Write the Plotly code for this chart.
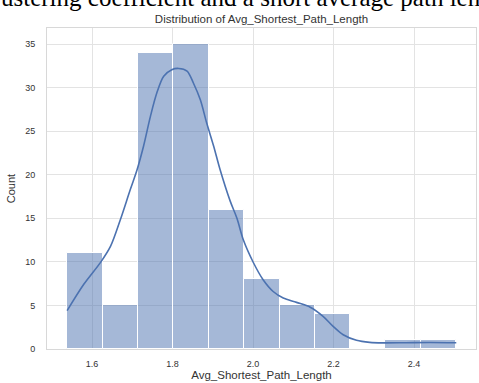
import plotly.graph_objects as go

# ---- data ----
bin_edges = [1.538, 1.626, 1.714, 1.802, 1.890, 1.978, 2.066, 2.153, 2.241, 2.329, 2.417, 2.505]
counts = [11, 5, 34, 35, 16, 8, 5, 4, 0, 1, 1]

kde_x = [1.538, 1.579, 1.622, 1.646, 1.670, 1.695, 1.712, 1.728, 1.745, 1.761, 1.778,
         1.798, 1.815, 1.836, 1.852, 1.869, 1.885, 1.902, 1.918, 1.943, 1.960, 1.976,
         2.001, 2.025, 2.050, 2.075, 2.108, 2.142, 2.174, 2.199, 2.224, 2.257, 2.290,
         2.323, 2.380, 2.440, 2.505]
kde_y = [4.4, 7.4, 10.0, 11.8, 14.8, 18.3, 20.6, 23.3, 26.7, 29.4, 31.3,
         32.05, 32.2, 31.9, 30.5, 28.6, 25.9, 23.3, 20.6, 17.0, 15.0, 12.5,
         9.9, 7.95, 6.6, 5.85, 5.35, 4.8, 3.75, 2.6, 1.64, 1.0, 0.76,
         0.7, 0.72, 0.75, 0.72]

x_ticks = [1.6, 1.8, 2.0, 2.2, 2.4]
y_ticks = [0, 5, 10, 15, 20, 25, 30, 35]

title_text = "Distribution of Avg_Shortest_Path_Length"
x_label = "Avg_Shortest_Path_Length"
y_label = "Count"
header_text = "ustering coefficient and a short average path len"

# ---- build ----
centers = [(a + b) / 2 for a, b in zip(bin_edges[:-1], bin_edges[1:])]
widths = [b - a for a, b in zip(bin_edges[:-1], bin_edges[1:])]

BLUE = "#4c72b0"
FONT = "Liberation Sans, Arial, sans-serif"
W, H = 479, 383
ml, mr, mt, mb = 46.5, 2.5, 28.3, 33.7

fig = go.Figure()
fig.add_trace(go.Bar(
    x=centers, y=counts, width=widths,
    marker=dict(color="rgba(76,114,176,0.5)", line=dict(color="white", width=1)),
    hoverinfo="skip", showlegend=False,
))
fig.add_trace(go.Scatter(
    x=kde_x, y=kde_y, mode="lines",
    line=dict(color=BLUE, width=1.6, shape="spline", smoothing=0.9),
    hoverinfo="skip", showlegend=False,
))

plot_h = H - mt - mb
fig.update_layout(
    width=W, height=H, autosize=False,
    margin=dict(l=ml, r=mr, t=mt, b=mb, pad=0),
    paper_bgcolor="white", plot_bgcolor="white",
    bargap=0,
    font=dict(family=FONT, size=9, color="#333333"),
    title=dict(text=title_text, x=0.5, xref="paper", xanchor="center",
               y=1 - 19 / H, yref="container", yanchor="middle",
               font=dict(family=FONT, size=11.5, color="#333333")),
    xaxis=dict(range=[1.488, 2.554], tickvals=x_ticks, ticktext=[f"{v:.1f}" for v in x_ticks],
               showgrid=True, gridcolor="#e3e3e3", gridwidth=1,
               showline=True, mirror=True, linecolor="#d8d8d8", linewidth=1,
               zeroline=False, ticks="", ticklabelstandoff=6,
               title=dict(text=x_label, standoff=2, font=dict(family=FONT, size=11.5, color="#333333"))),
    yaxis=dict(range=[0, 36.84], tickvals=y_ticks,
               showgrid=True, gridcolor="#e3e3e3", gridwidth=1,
               showline=True, mirror=True, linecolor="#d8d8d8", linewidth=1,
               zeroline=False, ticks="", ticklabelstandoff=9,
               title=dict(text=y_label, standoff=7, font=dict(family=FONT, size=11, color="#333333"))),
    annotations=[dict(
        text=header_text, xref="paper", yref="paper",
        x=-ml / (W - ml - mr) - 0.004, xanchor="left",
        y=1 + (mt + 2.0) / plot_h, yanchor="middle",
        showarrow=False,
        font=dict(family="Liberation Serif, Times New Roman, serif", size=25, color="black"),
    )],
)

fig.write_html("out.html", config={"displayModeBar": False},
               post_script="document.body.style.margin='0';document.body.style.overflow='hidden';")
